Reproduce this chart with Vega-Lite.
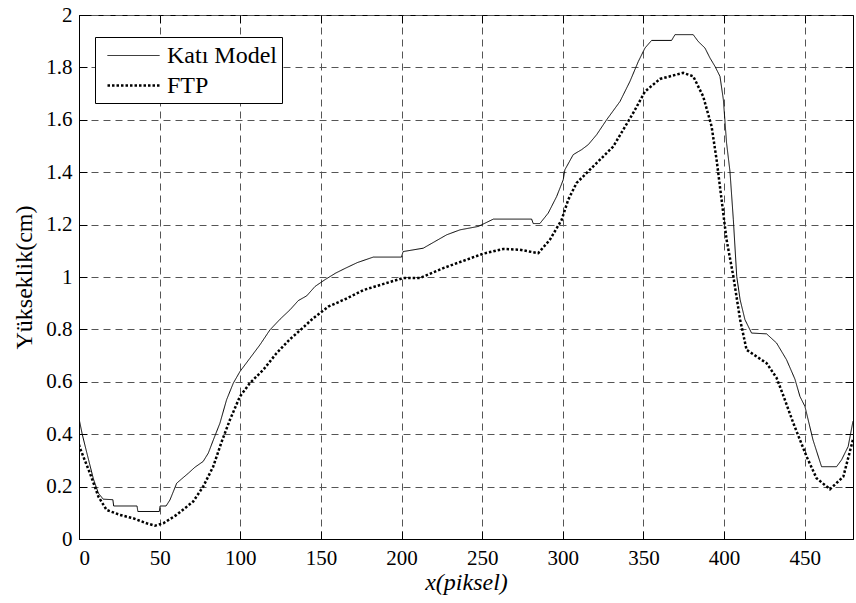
{
  "$schema": "https://vega.github.io/schema/vega-lite/v6.json",
  "width": 774,
  "height": 524,
  "autosize": {"type": "none"},
  "padding": {"left": 79, "top": 15, "right": 3, "bottom": 64},
  "background": "white",
  "config": {
    "view": {"stroke": "black", "strokeWidth": 1},
    "font": "Liberation Serif, Times New Roman, serif",
    "axis": {
      "labelFont": "Liberation Serif, Times New Roman, serif",
      "titleFont": "Liberation Serif, Times New Roman, serif",
      "labelFontSize": 21,
      "titleFontSize": 24,
      "labelColor": "black",
      "titleColor": "black",
      "titleFontWeight": "normal",
      "domainColor": "black",
      "tickColor": "black",
      "tickSize": -8,
      "gridColor": "#555555",
      "gridDash": [7, 5],
      "gridWidth": 1
    },
    "legend": {
      "labelFont": "Liberation Serif, Times New Roman, serif",
      "labelFontSize": 24,
      "labelColor": "black"
    }
  },
  "data": {
    "values": [
      {"s": "Katı Model", "x": 0, "y": 0.46},
      {"s": "Katı Model", "x": 2, "y": 0.40},
      {"s": "Katı Model", "x": 4.8, "y": 0.33},
      {"s": "Katı Model", "x": 8.9, "y": 0.23},
      {"s": "Katı Model", "x": 12, "y": 0.175},
      {"s": "Katı Model", "x": 15, "y": 0.152},
      {"s": "Katı Model", "x": 21, "y": 0.15},
      {"s": "Katı Model", "x": 21.5, "y": 0.126},
      {"s": "Katı Model", "x": 36, "y": 0.126},
      {"s": "Katı Model", "x": 36.5, "y": 0.105},
      {"s": "Katı Model", "x": 49.8, "y": 0.105},
      {"s": "Katı Model", "x": 50.3, "y": 0.126},
      {"s": "Katı Model", "x": 54, "y": 0.126},
      {"s": "Katı Model", "x": 56.4, "y": 0.149},
      {"s": "Katı Model", "x": 60.6, "y": 0.213},
      {"s": "Katı Model", "x": 63.6, "y": 0.229},
      {"s": "Katı Model", "x": 67.8, "y": 0.251},
      {"s": "Katı Model", "x": 71.9, "y": 0.274},
      {"s": "Katı Model", "x": 77, "y": 0.296},
      {"s": "Katı Model", "x": 80.2, "y": 0.328},
      {"s": "Katı Model", "x": 83.3, "y": 0.378},
      {"s": "Katı Model", "x": 87.4, "y": 0.442},
      {"s": "Katı Model", "x": 91.5, "y": 0.531},
      {"s": "Katı Model", "x": 95.7, "y": 0.595},
      {"s": "Katı Model", "x": 99.8, "y": 0.639},
      {"s": "Katı Model", "x": 106, "y": 0.690},
      {"s": "Katı Model", "x": 112.2, "y": 0.741},
      {"s": "Katı Model", "x": 118.4, "y": 0.798},
      {"s": "Katı Model", "x": 124.7, "y": 0.839},
      {"s": "Katı Model", "x": 130.9, "y": 0.875},
      {"s": "Katı Model", "x": 136, "y": 0.910},
      {"s": "Katı Model", "x": 141.2, "y": 0.928},
      {"s": "Katı Model", "x": 146.4, "y": 0.964},
      {"s": "Katı Model", "x": 152.6, "y": 0.990},
      {"s": "Katı Model", "x": 159.2, "y": 1.015},
      {"s": "Katı Model", "x": 165.4, "y": 1.034},
      {"s": "Katı Model", "x": 172.6, "y": 1.055},
      {"s": "Katı Model", "x": 182.5, "y": 1.076},
      {"s": "Katı Model", "x": 200, "y": 1.076},
      {"s": "Katı Model", "x": 201, "y": 1.097},
      {"s": "Katı Model", "x": 213.5, "y": 1.110},
      {"s": "Katı Model", "x": 228, "y": 1.161},
      {"s": "Katı Model", "x": 236.3, "y": 1.180},
      {"s": "Katı Model", "x": 247.6, "y": 1.193},
      {"s": "Katı Model", "x": 257, "y": 1.221},
      {"s": "Katı Model", "x": 280.7, "y": 1.221},
      {"s": "Katı Model", "x": 281.7, "y": 1.204},
      {"s": "Katı Model", "x": 285.8, "y": 1.204},
      {"s": "Katı Model", "x": 291, "y": 1.244},
      {"s": "Katı Model", "x": 296.2, "y": 1.307},
      {"s": "Katı Model", "x": 300.3, "y": 1.371},
      {"s": "Katı Model", "x": 301.3, "y": 1.409},
      {"s": "Katı Model", "x": 306.5, "y": 1.467},
      {"s": "Katı Model", "x": 311.7, "y": 1.486},
      {"s": "Katı Model", "x": 315.8, "y": 1.505},
      {"s": "Katı Model", "x": 321, "y": 1.543},
      {"s": "Katı Model", "x": 327.2, "y": 1.600},
      {"s": "Katı Model", "x": 335.5, "y": 1.670},
      {"s": "Katı Model", "x": 341.7, "y": 1.747},
      {"s": "Katı Model", "x": 346.9, "y": 1.823},
      {"s": "Katı Model", "x": 351, "y": 1.874},
      {"s": "Katı Model", "x": 355.1, "y": 1.903},
      {"s": "Katı Model", "x": 367.5, "y": 1.903},
      {"s": "Katı Model", "x": 369.6, "y": 1.925},
      {"s": "Katı Model", "x": 380.9, "y": 1.925},
      {"s": "Katı Model", "x": 384, "y": 1.899},
      {"s": "Katı Model", "x": 388.2, "y": 1.874},
      {"s": "Katı Model", "x": 391.3, "y": 1.836},
      {"s": "Katı Model", "x": 394.4, "y": 1.804},
      {"s": "Katı Model", "x": 397.5, "y": 1.766},
      {"s": "Katı Model", "x": 399.6, "y": 1.677},
      {"s": "Katı Model", "x": 401.6, "y": 1.511},
      {"s": "Katı Model", "x": 403.7, "y": 1.403},
      {"s": "Katı Model", "x": 405.8, "y": 1.218},
      {"s": "Katı Model", "x": 407.9, "y": 1.002},
      {"s": "Katı Model", "x": 410, "y": 0.913},
      {"s": "Katı Model", "x": 413, "y": 0.837},
      {"s": "Katı Model", "x": 417.1, "y": 0.786},
      {"s": "Katı Model", "x": 426.4, "y": 0.783},
      {"s": "Katı Model", "x": 432.6, "y": 0.748},
      {"s": "Katı Model", "x": 438.8, "y": 0.684},
      {"s": "Katı Model", "x": 444, "y": 0.610},
      {"s": "Katı Model", "x": 447.1, "y": 0.544},
      {"s": "Katı Model", "x": 450.2, "y": 0.506},
      {"s": "Katı Model", "x": 455.2, "y": 0.378},
      {"s": "Katı Model", "x": 460.5, "y": 0.276},
      {"s": "Katı Model", "x": 469.8, "y": 0.276},
      {"s": "Katı Model", "x": 472.9, "y": 0.302},
      {"s": "Katı Model", "x": 477, "y": 0.353},
      {"s": "Katı Model", "x": 480, "y": 0.45},
      {"s": "FTP", "x": 0, "y": 0.36},
      {"s": "FTP", "x": 0.6, "y": 0.347},
      {"s": "FTP", "x": 6.8, "y": 0.251},
      {"s": "FTP", "x": 12, "y": 0.162},
      {"s": "FTP", "x": 17.1, "y": 0.111},
      {"s": "FTP", "x": 25.4, "y": 0.092},
      {"s": "FTP", "x": 33.6, "y": 0.079},
      {"s": "FTP", "x": 41.9, "y": 0.060},
      {"s": "FTP", "x": 47.1, "y": 0.051},
      {"s": "FTP", "x": 52.3, "y": 0.060},
      {"s": "FTP", "x": 60.5, "y": 0.092},
      {"s": "FTP", "x": 70.8, "y": 0.143},
      {"s": "FTP", "x": 77, "y": 0.200},
      {"s": "FTP", "x": 83.2, "y": 0.276},
      {"s": "FTP", "x": 88.4, "y": 0.370},
      {"s": "FTP", "x": 93.6, "y": 0.455},
      {"s": "FTP", "x": 99.8, "y": 0.544},
      {"s": "FTP", "x": 106, "y": 0.595},
      {"s": "FTP", "x": 114.3, "y": 0.646},
      {"s": "FTP", "x": 122.5, "y": 0.709},
      {"s": "FTP", "x": 130.9, "y": 0.763},
      {"s": "FTP", "x": 137, "y": 0.796},
      {"s": "FTP", "x": 145.3, "y": 0.843},
      {"s": "FTP", "x": 154.6, "y": 0.887},
      {"s": "FTP", "x": 165.3, "y": 0.916},
      {"s": "FTP", "x": 176.3, "y": 0.950},
      {"s": "FTP", "x": 190.7, "y": 0.977},
      {"s": "FTP", "x": 201, "y": 0.996},
      {"s": "FTP", "x": 211.4, "y": 0.996},
      {"s": "FTP", "x": 225.9, "y": 1.034},
      {"s": "FTP", "x": 240.3, "y": 1.066},
      {"s": "FTP", "x": 250.7, "y": 1.089},
      {"s": "FTP", "x": 263.1, "y": 1.107},
      {"s": "FTP", "x": 273.4, "y": 1.104},
      {"s": "FTP", "x": 284.8, "y": 1.091},
      {"s": "FTP", "x": 292, "y": 1.142},
      {"s": "FTP", "x": 299.3, "y": 1.218},
      {"s": "FTP", "x": 303.4, "y": 1.295},
      {"s": "FTP", "x": 308.6, "y": 1.359},
      {"s": "FTP", "x": 318.9, "y": 1.422},
      {"s": "FTP", "x": 331.3, "y": 1.498},
      {"s": "FTP", "x": 343.7, "y": 1.626},
      {"s": "FTP", "x": 351, "y": 1.708},
      {"s": "FTP", "x": 360.3, "y": 1.756},
      {"s": "FTP", "x": 372.7, "y": 1.776},
      {"s": "FTP", "x": 374.7, "y": 1.779},
      {"s": "FTP", "x": 380.9, "y": 1.766},
      {"s": "FTP", "x": 387.1, "y": 1.689},
      {"s": "FTP", "x": 392.3, "y": 1.575},
      {"s": "FTP", "x": 395.4, "y": 1.448},
      {"s": "FTP", "x": 398.5, "y": 1.295},
      {"s": "FTP", "x": 401.6, "y": 1.142},
      {"s": "FTP", "x": 405.8, "y": 1.002},
      {"s": "FTP", "x": 410, "y": 0.837},
      {"s": "FTP", "x": 414, "y": 0.722},
      {"s": "FTP", "x": 426.4, "y": 0.671},
      {"s": "FTP", "x": 432.6, "y": 0.615},
      {"s": "FTP", "x": 437, "y": 0.544},
      {"s": "FTP", "x": 443, "y": 0.442},
      {"s": "FTP", "x": 451.2, "y": 0.315},
      {"s": "FTP", "x": 457.4, "y": 0.232},
      {"s": "FTP", "x": 465.7, "y": 0.190},
      {"s": "FTP", "x": 474, "y": 0.238},
      {"s": "FTP", "x": 480, "y": 0.380}
    ]
  },
  "layer": [
    {
      "mark": {"type": "line", "color": "black", "strokeCap": "butt", "clip": true},
      "encoding": {
        "x": {
          "field": "x", "type": "quantitative",
          "scale": {"domain": [0, 480], "nice": false, "zero": false},
          "axis": {
            "orient": "bottom",
            "values": [0, 50, 100, 150, 200, 250, 300, 350, 400, 450],
            "format": "d",
            "title": "x(piksel)",
            "titleFontStyle": "italic",
            "grid": true,
            "labelPadding": 16,
            "titlePadding": 2
          }
        },
        "y": {
          "field": "y", "type": "quantitative",
          "scale": {"domain": [0, 2], "nice": false},
          "axis": {
            "orient": "left",
            "values": [0, 0.2, 0.4, 0.6, 0.8, 1, 1.2, 1.4, 1.6, 1.8, 2],
            "format": "~g",
            "title": "Yükseklik(cm)",
            "grid": true,
            "labelPadding": 15,
            "titlePadding": 9
          }
        },
        "strokeDash": {
          "field": "s", "type": "nominal",
          "scale": {"domain": ["Katı Model", "FTP"], "range": [[1, 0], [2.5, 2]]},
          "legend": {
            "title": null,
            "orient": "none",
            "legendX": 16,
            "legendY": 22,
            "strokeColor": "black",
            "fillColor": "white",
            "padding": 5,
            "symbolType": "M-1,0H3",
            "symbolSize": 676,
            "symbolStrokeColor": "black",
            "symbolOffset": 6,
            "labelOffset": 32,
            "rowPadding": 3
          }
        },
        "strokeWidth": {
          "field": "s", "type": "nominal",
          "scale": {"type": "ordinal", "domain": ["Katı Model", "FTP"], "range": [1, 2.5]},
          "legend": {
            "title": null,
            "orient": "none",
            "legendX": 16,
            "legendY": 22,
            "strokeColor": "black",
            "fillColor": "white",
            "padding": 5,
            "symbolType": "M-1,0H3",
            "symbolSize": 676,
            "symbolStrokeColor": "black",
            "symbolOffset": 6,
            "labelOffset": 32,
            "rowPadding": 3
          }
        }
      }
    },
    {
      "mark": {"type": "point", "opacity": 0},
      "encoding": {
        "x": {
          "field": "x", "type": "quantitative",
          "axis": {
            "orient": "top",
            "values": [0, 50, 100, 150, 200, 250, 300, 350, 400, 450],
            "labels": false,
            "domain": false,
            "grid": false,
            "title": null
          }
        },
        "y": {
          "field": "y", "type": "quantitative",
          "axis": {
            "orient": "right",
            "values": [0, 0.2, 0.4, 0.6, 0.8, 1, 1.2, 1.4, 1.6, 1.8, 2],
            "labels": false,
            "domain": false,
            "grid": false,
            "title": null
          }
        }
      }
    }
  ],
  "resolve": {"axis": {"x": "independent", "y": "independent"}}
}
